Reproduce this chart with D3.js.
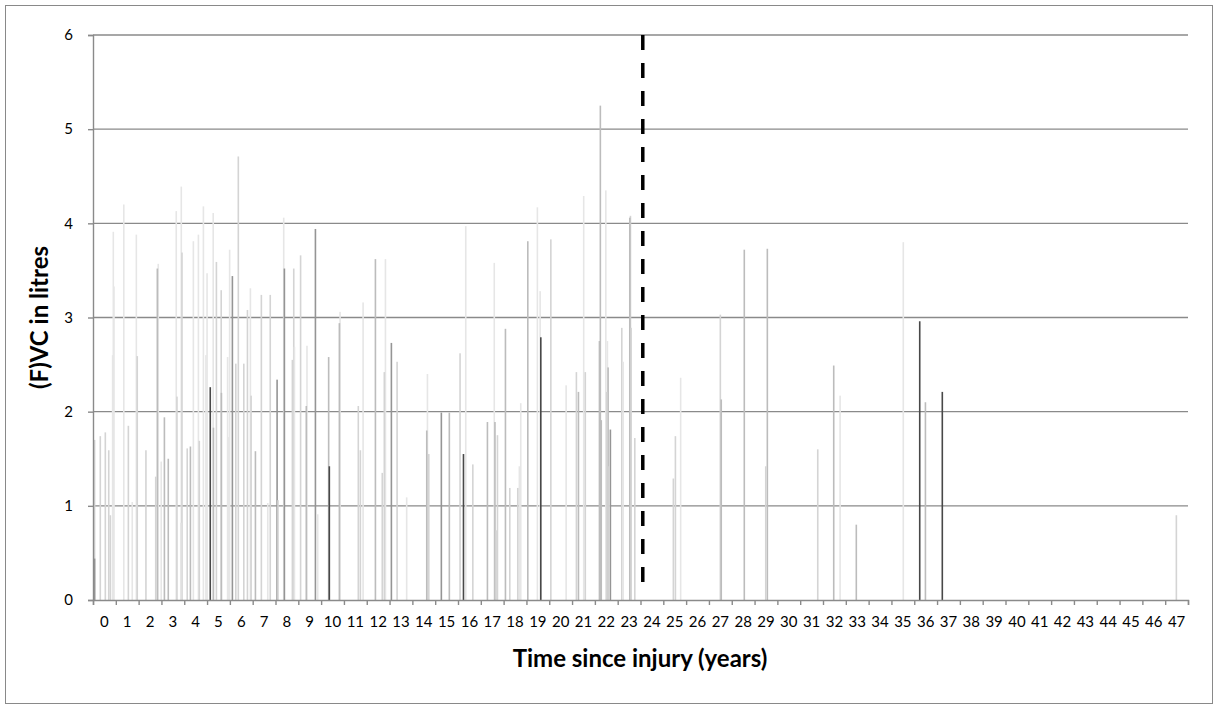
<!DOCTYPE html>
<html>
<head>
<meta charset="utf-8">
<script src="https://cdn.jsdelivr.net/npm/d3@7"></script>
<style>
  body { margin: 0; background: #fff; }
  text { font-family: Lato, "Open Sans", sans-serif; }
</style>
</head>
<body>
<div id="chart"></div>
<script>
// measurement time (in category units, year k spans [k, k+1)), value and patient group
var times = [
  0.07, 0.07, 0.32, 0.54, 0.69, 0.76, 0.89, 0.92, 0.86, 1.35, 1.55, 1.72, 1.90, 1.94, 2.32,
  2.75, 2.82, 2.86, 2.99, 3.13, 3.30, 3.65, 3.68, 3.87, 3.90, 3.85, 4.13, 4.27, 4.40, 4.62, 4.66,
  4.84, 4.95, 5.00, 5.14, 5.27, 5.28, 5.41, 5.62, 5.63, 5.90, 5.93, 5.99, 6.11, 6.26, 6.37,
  6.61, 6.77, 6.90, 6.93, 7.12, 7.38, 7.66, 7.77, 8.07, 8.11, 8.36, 8.39, 8.74, 8.80, 8.83,
  9.10, 9.35, 9.38,
  9.75, 9.85, 10.33, 10.36, 10.80, 10.83, 11.63, 11.72, 11.84, 12.38, 12.68, 12.77, 12.82,
  13.08, 13.33, 13.75,
  14.63, 14.66, 14.72, 15.27, 15.62, 16.09, 16.24, 16.34, 16.65, 17.29, 17.59, 17.62, 17.67,
  17.73, 18.08, 18.27, 18.62, 18.69, 18.75, 19.06, 19.48,
  19.60, 19.63, 20.07, 20.74, 21.19, 21.28, 21.51, 21.58, 22.20, 22.24, 22.28, 22.48, 22.52,
  22.55, 22.58, 22.62, 22.68, 23.18, 23.24, 23.53, 23.56, 23.59, 23.75,
  25.44, 25.53, 25.76, 27.50, 27.54, 28.55, 29.49, 29.56, 31.77, 32.47, 32.75, 33.46,
  35.52, 36.24, 36.49, 37.23, 47.49
];
var values = [
  1.70, 0.44, 1.74, 1.78, 1.59, 0.90, 3.91, 3.33, 2.60, 4.20, 1.85, 1.04, 3.88, 2.59, 1.59,
  1.31, 3.52, 3.57, 1.47, 1.94, 1.50, 4.13, 2.16, 4.39, 3.69, 0.82, 1.61, 1.63, 3.81, 3.88, 1.69,
  4.18, 2.60, 3.47, 2.26, 4.11, 1.83, 3.59, 3.29, 2.20, 2.58, 1.73, 3.72, 3.44, 2.51, 4.71,
  2.51, 3.08, 3.31, 2.17, 1.58, 3.24, 1.03, 3.24, 2.34, 1.06, 4.06, 3.52, 2.55, 3.52, 2.69,
  3.66, 2.06, 2.70,
  3.94, 0.91, 2.58, 1.42, 2.94, 3.06, 2.06, 1.59, 3.16, 3.62, 1.35, 2.42, 3.62,
  2.73, 2.53, 1.09,
  1.80, 2.40, 1.55, 1.99, 1.99, 2.62, 1.55, 3.97, 1.44, 1.89, 3.58, 1.89, 0.74,
  1.75, 2.88, 1.19, 1.19, 1.42, 2.09, 3.81, 4.17,
  3.28, 2.79, 3.83, 2.28, 2.42, 2.21, 4.29, 2.42, 2.75, 5.25, 1.91, 4.35, 2.21,
  2.75, 2.47, 1.42, 1.81, 2.89, 2.53, 4.06, 4.08, 2.89, 1.72,
  1.29, 1.74, 2.36, 3.03, 2.13, 3.72, 1.42, 3.73, 1.60, 2.49, 2.17, 0.80,
  3.80, 2.96, 2.10, 2.21, 0.90
];
var groups = [
  2, 4, 2, 2, 2, 2, 1, 1, 1, 1, 2, 1, 1, 2, 2,
  2, 3, 1, 1, 3, 3, 1, 2, 1, 2, 1, 2, 3, 1, 1, 2,
  1, 1, 1, 5, 1, 3, 2, 2, 3, 1, 1, 1, 4, 2, 2,
  2, 2, 1, 2, 3, 2, 1, 2, 4, 2, 1, 4, 2, 2, 1,
  2, 3, 1,
  4, 1, 3, 5, 3, 1, 2, 2, 1, 3, 2, 2, 1,
  4, 2, 1,
  3, 1, 2, 4, 3, 2, 5, 1, 2, 3, 1, 3, 2,
  2, 3, 2, 2, 1, 1, 3, 1,
  1, 5, 2, 1, 2, 3, 1, 2, 3, 3, 3, 1, 2,
  1, 3, 2, 4, 2, 1, 3, 2, 2, 2,
  2, 2, 1, 2, 3, 3, 2, 3, 2, 3, 1, 3,
  1, 5, 3, 5, 2
];
var yearLabels = [0, 1, 2, 3, 4, 5, 6, 7, 8, 9, 10, 11, 12, 13, 14, 15, 16, 17, 18, 19, 20,
  21, 22, 23, 24, 25, 26, 27, 28, 29, 30, 31, 32, 33, 34, 35, 36, 37, 38, 39, 40, 41, 42, 43,
  44, 45, 46, 47];
var yTicks = [0, 1, 2, 3, 4, 5, 6];
var markerTime = 24.1;

var W = 1218, H = 709;
var mLeft = 93, mRight = 1188, mTop = 35, mBottom = 600;

var svg = d3.select("#chart").append("svg")
  .attr("width", W).attr("height", H);

svg.append("rect")
  .attr("x", 5.5).attr("y", 5.5)
  .attr("width", W - 11).attr("height", H - 11)
  .attr("fill", "#fff").attr("stroke", "#898989").attr("stroke-width", 1);

var x = d3.scaleLinear().domain([0, yearLabels.length]).range([mLeft, mRight]);
var xBand = d3.scaleBand().domain(yearLabels).range([mLeft, mRight]);
var y = d3.scaleLinear().domain([0, 6]).range([mBottom, mTop]);

var shade = d3.scaleOrdinal().domain([1, 2, 3, 4, 5])
  .range(["#e6e6e6", "#d4d4d4", "#bcbcbc", "#959595", "#484848"]);

// gridlines
svg.append("g").selectAll("line")
  .data(yTicks.filter(function(d) { return d > 0; }))
  .enter().append("line")
  .attr("x1", mLeft).attr("x2", mRight)
  .attr("y1", function(d) { return y(d); })
  .attr("y2", function(d) { return y(d); })
  .attr("stroke", "#8a8a8a").attr("stroke-width", 1.4);

// bars
var bars = times.map(function(t, i) { return { t: t, v: values[i], g: groups[i] }; });
bars.sort(function(a, b) { return b.v - a.v; });
svg.append("g").selectAll("rect")
  .data(bars)
  .enter().append("rect")
  .attr("x", function(d) { return x(d.t) - 0.8; })
  .attr("y", function(d) { return y(d.v); })
  .attr("width", 1.6)
  .attr("height", function(d) { return y(0) - y(d.v); })
  .attr("fill", function(d) { return shade(d.g); });

// injury marker
svg.append("line")
  .attr("x1", x(markerTime)).attr("x2", x(markerTime))
  .attr("y1", y(6)).attr("y2", y(0.15))
  .attr("stroke", "#000").attr("stroke-width", 3.5)
  .attr("stroke-dasharray", "15,13");

// x axis
var xAxis = d3.axisBottom(x).tickValues(d3.range(0, yearLabels.length + 1))
  .tickSize(5).tickFormat("");
var gx = svg.append("g").attr("transform", "translate(0," + mBottom + ")").call(xAxis);
gx.select(".domain").attr("stroke", "#8a8a8a").attr("stroke-width", 1.4);
gx.selectAll(".tick line").attr("stroke", "#8a8a8a").attr("stroke-width", 1.4);

svg.append("g").selectAll("text")
  .data(yearLabels)
  .enter().append("text")
  .attr("x", function(d) { return xBand(d) + xBand.bandwidth() / 2; })
  .attr("y", 627)
  .attr("text-anchor", "middle")
  .attr("font-size", "15px")
  .attr("fill", "#000")
  .text(function(d) { return d; });

// y axis
var yAxis = d3.axisLeft(y).tickValues(yTicks).tickSize(5).tickPadding(15)
  .tickFormat(d3.format("d"));
var gy = svg.append("g").attr("transform", "translate(" + mLeft + ",0)").call(yAxis);
gy.select(".domain").attr("stroke", "#8a8a8a").attr("stroke-width", 1.4);
gy.selectAll(".tick line").attr("stroke", "#8a8a8a").attr("stroke-width", 1.4);
gy.selectAll(".tick text")
  .attr("font-family", "Lato, 'Open Sans', sans-serif")
  .attr("font-size", "15px").attr("fill", "#000");

// titles
svg.append("text")
  .attr("x", 640)
  .attr("y", 667)
  .attr("text-anchor", "middle")
  .attr("font-size", "24px").attr("font-weight", "bold")
  .text("Time since injury (years)");

svg.append("text")
  .attr("transform", "translate(48," + (mTop + mBottom) / 2 + ") rotate(-90)")
  .attr("text-anchor", "middle")
  .attr("font-size", "24px").attr("font-weight", "bold")
  .text("(F)VC in litres");
</script>
</body>
</html>
